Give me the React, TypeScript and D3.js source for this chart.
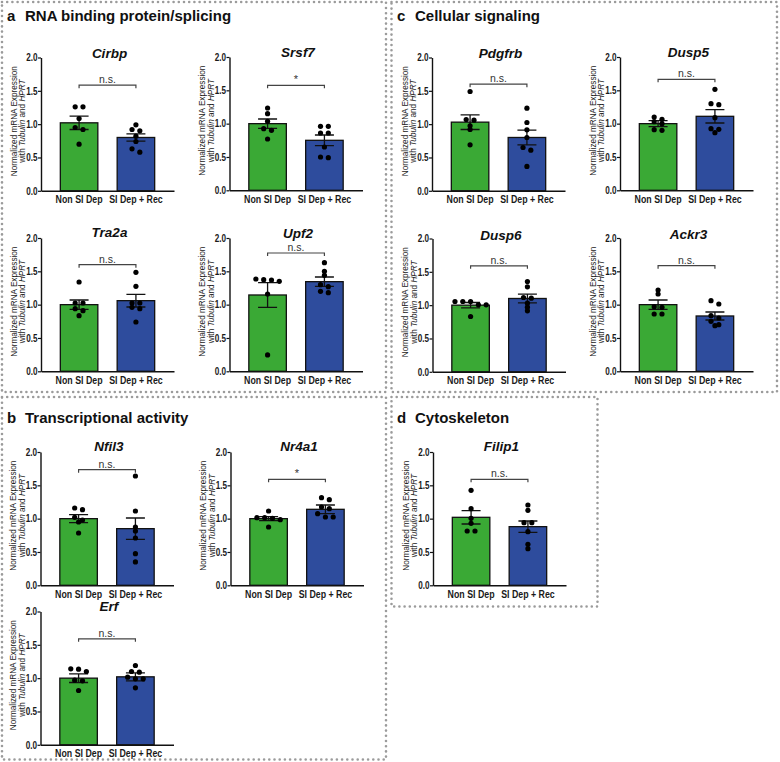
import { useEffect, useRef } from 'react'
import * as d3 from 'd3'

// ---- data ----
const groups = ['Non SI Dep', 'SI Dep + Rec']
const yTicks = [0, 0.5, 1.0, 1.5, 2.0]

const genes = ['Cirbp', 'Srsf7', 'Tra2a', 'Upf2', 'Pdgfrb', 'Dusp5', 'Dusp6', 'Ackr3', 'Nfil3', 'Nr4a1', 'Erf', 'Filip1']
const meanNonDep = [1.02, 1.0, 1.0, 1.145, 1.03, 1.0, 1.0, 1.0, 1.0, 1.0, 1.0, 1.02]
const semNonDep = [0.1, 0.07, 0.07, 0.185, 0.11, 0.045, 0.04, 0.07, 0.06, 0.03, 0.065, 0.1]
const meanDepRec = [0.8, 0.75, 1.06, 1.345, 0.8, 1.11, 1.1, 0.83, 0.85, 1.14, 1.02, 0.88]
const semDepRec = [0.055, 0.08, 0.095, 0.07, 0.11, 0.1, 0.065, 0.06, 0.16, 0.065, 0.06, 0.085]

const pointsNonDep = [
  [1.26, 1.26, 1.085, 0.95, 0.92, 0.7],
  [1.235, 1.15, 1.035, 0.925, 0.9, 0.77],
  [1.34, 1.025, 1.025, 0.94, 0.91, 0.835],
  [1.385, 1.375, 1.37, 1.35, 1.16, 0.245],
  [1.49, 1.07, 1.06, 0.975, 0.92, 0.69],
  [1.1, 1.065, 1.03, 1.0, 0.91, 0.9],
  [1.055, 1.055, 1.055, 1.005, 1.005, 0.83],
  [1.22, 1.16, 0.97, 0.96, 0.86, 0.86],
  [1.16, 1.135, 1.02, 0.98, 0.95, 0.785],
  [1.115, 1.015, 1.015, 1.005, 0.985, 0.875],
  [1.14, 1.135, 1.1, 0.97, 0.96, 0.815],
  [1.425, 1.15, 1.005, 0.93, 0.815, 0.815],
]
const pointsDepRec = [
  [0.99, 0.92, 0.9, 0.82, 0.74, 0.63, 0.58],
  [0.96, 0.96, 0.86, 0.86, 0.65, 0.5, 0.49],
  [1.485, 1.275, 1.025, 1.025, 0.96, 0.94, 0.74],
  [1.63, 1.5, 1.44, 1.3, 1.27, 1.2, 1.18],
  [1.24, 1.025, 0.915, 0.8, 0.65, 0.61, 0.365],
  [1.515, 1.3, 1.285, 1.09, 0.925, 0.915, 0.865],
  [1.355, 1.275, 1.115, 1.105, 1.03, 0.97, 0.915],
  [1.06, 1.01, 0.835, 0.8, 0.75, 0.7, 0.685],
  [1.64, 1.115, 0.875, 0.815, 0.71, 0.475, 0.35],
  [1.315, 1.285, 1.175, 1.15, 1.075, 1.025, 1.025],
  [1.19, 1.1, 1.09, 1.015, 0.99, 0.99, 0.855],
  [1.205, 1.125, 0.94, 0.94, 0.805, 0.615, 0.55],
]
const bracketAt = [1.585, 1.575, 1.6, 1.775, 1.6, 1.665, 1.59, 1.585, 1.735, 1.59, 1.59, 1.59]
const significance = ['n.s.', '*', 'n.s.', 'n.s.', 'n.s.', 'n.s.', 'n.s.', 'n.s.', 'n.s.', '*', 'n.s.', 'n.s.']

const panelLetters = ['a', 'b', 'c', 'd']
const panelTitles = ['RNA binding protein/splicing', 'Transcriptional activity', 'Cellular signaling', 'Cytoskeleton']

// ---- layout ----
const W = 780
const H = 762
const plotW = 133
const plotH = 133.3
const colors = ['#3aa935', '#2e4c9d']
const font = 'Liberation Sans, Arial, Helvetica, sans-serif'

const panelBoxes = [
  { x0: 2, y0: 2, x1: 386, y1: 392 },
  { x0: 2, y0: 397, x1: 386, y1: 759.5 },
  { x0: 391.5, y0: 2, x1: 777, y1: 392 },
  { x0: 391.5, y0: 397, x1: 597.5, y1: 606.5 },
]
const headingPos = [
  { x: 7, y: 20.5 },
  { x: 7, y: 423 },
  { x: 397, y: 20.5 },
  { x: 397, y: 423 },
]
const chartPos = [
  { x: 41, y: 57.5, titleDy: 0 },
  { x: 229.5, y: 57, titleDy: 0 },
  { x: 41, y: 238, titleDy: -1 },
  { x: 229.5, y: 238, titleDy: 0 },
  { x: 432, y: 57.5, titleDy: 0 },
  { x: 620, y: 57, titleDy: 0 },
  { x: 432.5, y: 238.5, titleDy: 1 },
  { x: 620, y: 238, titleDy: 1 },
  { x: 40.5, y: 452, titleDy: -1 },
  { x: 230.5, y: 452, titleDy: -1 },
  { x: 40.5, y: 611.5, titleDy: -1 },
  { x: 433, y: 452, titleDy: -1 },
]

// spread points that sit at about the same height, like a scatter dot plot
function swarm(values: number[], y: (v: number) => number, spacing: number) {
  const sorted = [...values].sort((a, b) => b - a)
  const rows: number[][] = []
  sorted.forEach(v => {
    const last = rows[rows.length - 1]
    if (last && Math.abs(y(last[0]) - y(v)) < 3.6) last.push(v)
    else rows.push([v])
  })
  const out: { v: number; dx: number }[] = []
  rows.forEach(r => {
    r.forEach((v, k) => out.push({ v, dx: (k - (r.length - 1) / 2) * spacing }))
  })
  return out
}

// the original uses a narrow-looking bold face; squeeze text horizontally
function squeeze(sel: d3.Selection<any, any, any, any>, factor: number) {
  sel.each(function () {
    const el = this as SVGTextElement
    const w = el.getComputedTextLength()
    if (w > 0) {
      el.setAttribute('textLength', String(w * factor))
      el.setAttribute('lengthAdjust', 'spacingAndGlyphs')
    }
  })
}

export default function App() {
  const svgRef = useRef<SVGSVGElement>(null)

  useEffect(() => {
    if (!svgRef.current) return
    const svg = d3.select(svgRef.current)
    svg.selectAll('*').remove()

    svg.append('rect').attr('width', W).attr('height', H).attr('fill', '#fff')

    // dotted panel frames
    panelBoxes.forEach(b => {
      svg.append('rect')
        .attr('x', b.x0)
        .attr('y', b.y0)
        .attr('width', b.x1 - b.x0)
        .attr('height', b.y1 - b.y0)
        .attr('fill', 'none')
        .attr('stroke', '#9b9b9b')
        .attr('stroke-width', 2.6)
        .attr('stroke-linecap', 'round')
        .attr('stroke-dasharray', '0 5.2')
    })

    panelLetters.forEach((letter, i) => {
      const p = headingPos[i]
      svg.append('text')
        .attr('x', p.x)
        .attr('y', p.y)
        .style('font-family', font)
        .style('font-size', '15px')
        .style('font-weight', 'bold')
        .attr('fill', '#111')
        .text(letter)
      svg.append('text')
        .attr('x', p.x + 18)
        .attr('y', p.y)
        .style('font-family', font)
        .style('font-size', '15px')
        .style('font-weight', 'bold')
        .attr('fill', '#111')
        .text(panelTitles[i])
    })

    const x = d3.scaleBand<string>()
      .domain(groups)
      .range([0, plotW])
      .paddingInner(0.34)
      .paddingOuter(0.34)
    const y = d3.scaleLinear().domain([0, 2]).range([plotH, 0])
    const bw = x.bandwidth()

    genes.forEach((gene, i) => {
      const pos = chartPos[i]
      const g = svg.append('g').attr('transform', `translate(${pos.x},${pos.y})`)
      const means = [meanNonDep[i], meanDepRec[i]]
      const sems = [semNonDep[i], semDepRec[i]]
      const pts = [pointsNonDep[i], pointsDepRec[i]]

      // bars
      groups.forEach((grp, k) => {
        g.append('rect')
          .attr('x', x(grp)!)
          .attr('y', y(means[k]))
          .attr('width', bw)
          .attr('height', plotH - y(means[k]))
          .attr('fill', colors[k])
          .attr('stroke', '#111')
          .attr('stroke-width', 1.3)
      })

      // axes
      g.append('g')
        .call(d3.axisLeft(y).tickValues(yTicks).tickFormat(d3.format('.1f')).tickSize(3).tickSizeOuter(0).tickPadding(0.5))
        .call(a => a.select('.domain').attr('stroke', '#111').attr('stroke-width', 1.4))
        .call(a => a.selectAll('.tick line').attr('stroke', '#111').attr('stroke-width', 1.2))
        .call(a => a.selectAll('.tick text')
          .attr('fill', '#1a1a1a')
          .style('font-family', font)
          .style('font-size', '10.2px')
          .style('font-weight', 'bold'))
        .call(a => squeeze(a.selectAll('.tick text'), 0.8))

      g.append('g')
        .attr('transform', `translate(0,${plotH})`)
        .call(d3.axisBottom(x).tickSize(0).tickSizeOuter(0).tickPadding(5.2))
        .call(a => a.select('.domain').attr('stroke', '#111').attr('stroke-width', 1.4))
        .call(a => a.selectAll('.tick text')
          .attr('fill', '#1a1a1a')
          .style('font-family', font)
          .style('font-size', '10px')
          .style('font-weight', 'bold'))
        .call(a => squeeze(a.selectAll('.tick text'), 0.88))

      // error bars
      groups.forEach((grp, k) => {
        const cx = x(grp)! + bw / 2
        const lo = y(means[k] - sems[k])
        const hi = y(means[k] + sems[k])
        g.append('path')
          .attr('d', `M${cx},${hi}V${lo}M${cx - 9.5},${hi}H${cx + 9.5}M${cx - 9.5},${lo}H${cx + 9.5}`)
          .attr('fill', 'none')
          .attr('stroke', '#111')
          .attr('stroke-width', 1.3)
      })

      // individual points
      groups.forEach((grp, k) => {
        const cx = x(grp)! + bw / 2
        g.selectAll(null)
          .data(swarm(pts[k], y, 7.8))
          .join('circle')
          .attr('cx', d => cx + d.dx)
          .attr('cy', d => y(d.v))
          .attr('r', 2.6)
          .attr('fill', '#000')
      })

      // significance bracket
      const x1 = x(groups[0])! + bw / 2
      const x2 = x(groups[1])! + bw / 2
      const yb = y(bracketAt[i])
      g.append('path')
        .attr('d', `M${x1},${yb + 3}V${yb}H${x2}V${yb + 3}`)
        .attr('fill', 'none')
        .attr('stroke', '#444')
        .attr('stroke-width', 1.2)
      g.append('text')
        .attr('x', (x1 + x2) / 2)
        .attr('y', yb - 2)
        .attr('text-anchor', 'middle')
        .attr('fill', '#333')
        .style('font-family', font)
        .style('font-size', significance[i] === '*' ? '11px' : '10.5px')
        .text(significance[i])

      // gene title
      g.append('text')
        .attr('x', plotW / 2 + 2)
        .attr('y', pos.titleDy)
        .attr('text-anchor', 'middle')
        .attr('fill', '#111')
        .style('font-family', font)
        .style('font-size', '13.5px')
        .style('font-weight', 'bold')
        .style('font-style', 'italic')
        .text(gene)

      // y axis label, two lines
      const lab = g.append('g').attr('transform', `translate(0,${plotH / 2 - 3}) rotate(-90)`)
      lab.append('text')
        .attr('x', 0)
        .attr('y', -24.5)
        .attr('text-anchor', 'middle')
        .attr('fill', '#222')
        .style('font-family', font)
        .style('font-size', '8.2px')
        .text('Normalized mRNA Expression')
      const l2 = lab.append('text')
        .attr('x', 0)
        .attr('y', -16)
        .attr('text-anchor', 'middle')
        .attr('fill', '#222')
        .style('font-family', font)
        .style('font-size', '8.2px')
      l2.append('tspan').text('with ')
      l2.append('tspan').style('font-style', 'italic').text('Tubulin')
      l2.append('tspan').text(' and ')
      l2.append('tspan').style('font-style', 'italic').text('HPRT')
    })
  }, [])

  return (
    <div style={{ position: 'absolute', left: 0, top: 0 }}>
      <svg ref={svgRef} width={W} height={H} style={{ display: 'block' }}></svg>
    </div>
  )
}
